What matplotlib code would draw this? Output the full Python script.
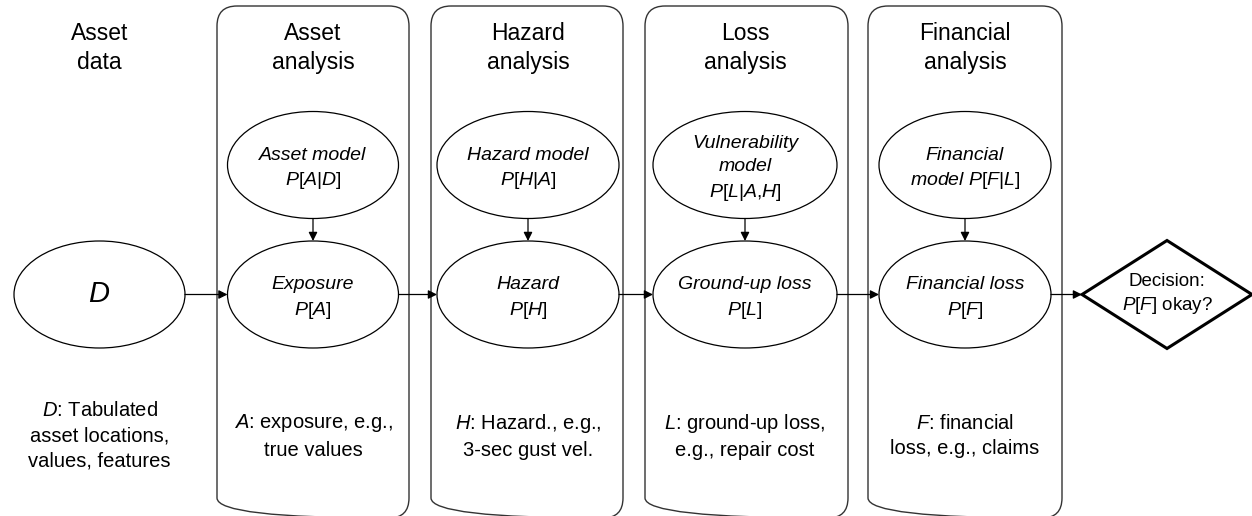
import matplotlib
matplotlib.use("Agg")
import matplotlib.pyplot as plt
from matplotlib.patches import FancyBboxPatch, Ellipse, Polygon

plt.rcParams["font.family"] = ["Liberation Sans", "DejaVu Sans"]
plt.rcParams["mathtext.fontset"] = "custom"
plt.rcParams["mathtext.it"] = "Liberation Sans:italic"
plt.rcParams["mathtext.rm"] = "Liberation Sans"
plt.rcParams["mathtext.default"] = "it"

# --- content of the diagram ---
data_title = "Asset\ndata"
data_node = "$D$"
data_note = "$D$: Tabulated\nasset locations,\nvalues, features"

stage_titles = ["Asset\nanalysis", "Hazard\nanalysis", "Loss\nanalysis", "Financial\nanalysis"]
model_labels = [
    "Asset model\n$P\\mathrm{[}A|D\\mathrm{]}$",
    "Hazard model\n$P\\mathrm{[}H|A\\mathrm{]}$",
    "Vulnerability\nmodel\n$P\\mathrm{[}L|A{,}H\\mathrm{]}$",
    "Financial\nmodel $P\\mathrm{[}F|L\\mathrm{]}$",
]
output_labels = [
    "Exposure\n$P\\mathrm{[}A\\mathrm{]}$",
    "Hazard\n$P\\mathrm{[}H\\mathrm{]}$",
    "Ground-up loss\n$P\\mathrm{[}L\\mathrm{]}$",
    "Financial loss\n$P\\mathrm{[}F\\mathrm{]}$",
]
stage_notes = [
    "$A$: exposure, e.g.,\ntrue values",
    "$H$: Hazard., e.g.,\n3-sec gust vel.",
    "$L$: ground-up loss,\ne.g., repair cost",
    "$F$: financial\nloss, e.g., claims",
]
decision_label = "Decision:\n$P\\mathrm{[}F\\mathrm{]}$ okay?"

# --- layout (pixels) ---
box_left = [217, 431, 645, 868]
box_right = [409, 623, 848, 1062]
node_cx = [313, 528, 745, 965]
node_w = [171, 182, 184, 172]
data_cx, data_w = 99.5, 171
model_cy, node_cy, node_h = 165, 294.5, 107
dec_cx, dec_w, dec_h = 1167, 170, 108
txt_dy = 4  # labels sit a little below the ellipse centres

fig = plt.figure(figsize=(12.52, 5.16), dpi=100)
ax = fig.add_axes([0, 0, 1, 1])
ax.set_xlim(0, 1252)
ax.set_ylim(516, 0)
ax.axis("off")

def arrow(x0, y0, x1, y1):
    ax.annotate("", xy=(x1, y1), xytext=(x0, y0),
                arrowprops=dict(arrowstyle="-|>", color="black", lw=0.9,
                                mutation_scale=13, shrinkA=0, shrinkB=0))

# asset data column
ax.text(data_cx, 48, data_title, ha="center", va="center", fontsize=16.5, linespacing=1.3)
ax.add_patch(Ellipse((data_cx, node_cy), data_w, node_h, fill=False, lw=0.9))
ax.text(data_cx, node_cy, data_node, ha="center", va="center", fontsize=21)
ax.text(data_cx, 436, data_note, ha="center", va="center", fontsize=14.5, linespacing=1.4)

# analysis stages
for i in range(4):
    ax.add_patch(FancyBboxPatch((box_left[i], 6), box_right[i] - box_left[i], 512,
                                boxstyle="round,pad=0,rounding_size=20",
                                fill=False, ec="#333333", lw=1.0))
    cx = node_cx[i]
    ax.text(cx, 48, stage_titles[i], ha="center", va="center", fontsize=16.5, linespacing=1.3)
    ax.add_patch(Ellipse((cx, model_cy), node_w[i], node_h, fill=False, lw=0.9))
    ax.text(cx, model_cy + txt_dy, model_labels[i], ha="center", va="center", fontsize=14,
            style="italic", linespacing=1.45)
    ax.add_patch(Ellipse((cx, node_cy), node_w[i], node_h, fill=False, lw=0.9))
    ax.text(cx, node_cy + txt_dy, output_labels[i], ha="center", va="center", fontsize=14,
            style="italic", linespacing=1.45)
    ax.text(cx, 436, stage_notes[i], ha="center", va="center", fontsize=14.5, linespacing=1.4)
    arrow(cx, model_cy + node_h / 2, cx, node_cy - node_h / 2)

# horizontal flow
lefts = [data_cx + data_w / 2] + [node_cx[i] + node_w[i] / 2 for i in range(4)]
rights = [node_cx[i] - node_w[i] / 2 for i in range(4)] + [dec_cx - dec_w / 2]
for x0, x1 in zip(lefts, rights):
    arrow(x0, node_cy, x1, node_cy)

# decision diamond
ax.add_patch(Polygon([(dec_cx - dec_w / 2, node_cy), (dec_cx, node_cy - dec_h / 2),
                      (dec_cx + dec_w / 2, node_cy), (dec_cx, node_cy + dec_h / 2)],
                     closed=True, fill=False, ec="black", lw=2.2))
ax.text(dec_cx, node_cy, decision_label, ha="center", va="center", fontsize=13.5, linespacing=1.35)

fig.savefig("out.png", dpi=100)
